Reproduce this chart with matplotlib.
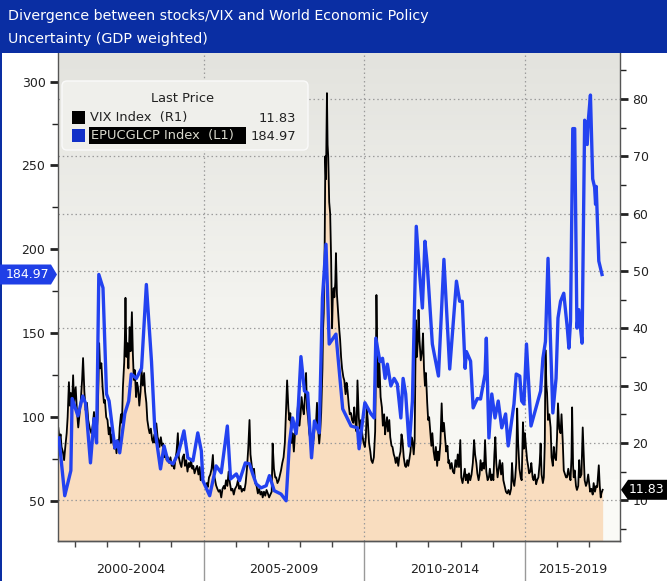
import numpy as np
import matplotlib
matplotlib.use("Agg")
import matplotlib.pyplot as plt
from matplotlib.patches import Rectangle, Polygon, FancyBboxPatch
from matplotlib.colors import LinearSegmentedColormap
import matplotlib.transforms as mtransforms

plt.rcParams['font.family'] = ['DejaVu Sans']

# ---------------- data ----------------
title_lines = ["Divergence between stocks/VIX and World Economic Policy",
               "Uncertainty (GDP weighted)"]
period_labels = ["2000-2004", "2005-2009", "2010-2014", "2015-2019"]
period_bounds = [2005, 2010, 2015]
legend_title = "Last Price"
vix_name = "VIX Index  (R1)"
epu_name = "EPUCGLCP Index  (L1)"

left_ticks = [50, 100, 150, 200, 250, 300]
right_ticks = [10, 20, 30, 40, 50, 60, 70, 80]

# EPU global index (left axis), decimal years
epu_t = [2000.50, 2000.68, 2000.87, 2000.91, 2001.09, 2001.24, 2001.33, 2001.48, 2001.59, 2001.67,
         2001.74, 2001.87, 2001.98, 2002.06, 2002.24, 2002.31, 2002.39, 2002.55, 2002.67, 2002.75,
         2002.91, 2003.07, 2003.22, 2003.38, 2003.48, 2003.66, 2003.77, 2003.89, 2004.05, 2004.22,
         2004.39, 2004.51, 2004.67, 2004.82, 2004.93, 2004.98, 2005.19, 2005.39, 2005.55, 2005.74,
         2005.84, 2006.02, 2006.12, 2006.30, 2006.43, 2006.53, 2006.64, 2006.79, 2006.95, 2007.05,
         2007.20, 2007.41, 2007.57, 2007.67, 2007.77, 2007.88, 2007.93, 2008.03, 2008.14, 2008.24,
         2008.36, 2008.45, 2008.60, 2008.70, 2008.81, 2008.91, 2009.12, 2009.33, 2009.59, 2009.79,
         2009.84, 2010.02, 2010.21, 2010.31, 2010.36, 2010.49, 2010.57, 2010.65, 2010.72, 2010.83,
         2010.93, 2011.03, 2011.14, 2011.21, 2011.29, 2011.40, 2011.50, 2011.62, 2011.71, 2011.81,
         2011.89, 2011.96, 2012.12, 2012.31, 2012.48, 2012.66, 2012.87, 2012.97, 2013.05, 2013.14,
         2013.18, 2013.31, 2013.39, 2013.52, 2013.62, 2013.76, 2013.80, 2013.88, 2013.97, 2014.07,
         2014.17, 2014.28, 2014.40, 2014.48, 2014.66, 2014.73, 2014.84, 2014.90, 2014.97, 2015.05,
         2015.19, 2015.49, 2015.56, 2015.64, 2015.72, 2015.80, 2015.87, 2015.97, 2016.03, 2016.11,
         2016.21, 2016.32, 2016.37, 2016.42, 2016.49, 2016.55, 2016.62, 2016.68, 2016.73, 2016.78,
         2016.86, 2016.94, 2016.97, 2017.04, 2017.11, 2017.17, 2017.20, 2017.22, 2017.30, 2017.40]
epu_v = [87.5, 53.0, 68.0, 111.0, 100.6, 112.5, 108.0, 72.6, 99.0, 84.5,
         185.0, 177.0, 113.7, 109.5, 81.5, 85.7, 78.6, 102.0, 109.5, 125.6,
         123.0, 129.0, 179.0, 133.0, 93.5, 69.0, 82.7, 73.8, 72.0, 78.6,
         91.7, 75.6, 73.8, 90.5, 79.8, 62.0, 53.0, 70.8, 66.7, 94.6,
         63.0, 66.0, 62.0, 72.6, 72.0, 66.0, 60.0, 57.7, 59.0, 65.0,
         56.0, 54.0, 50.0, 84.0, 99.4, 90.0, 99.4, 136.0, 115.5, 114.3,
         75.6, 97.6, 90.5, 171.0, 203.0, 143.5, 149.4, 104.8, 94.6, 93.5,
         81.0, 108.5, 101.8, 99.4, 147.0, 133.0, 135.0, 123.0, 131.5, 118.5,
         123.0, 119.6, 99.4, 123.0, 113.7, 82.7, 109.5, 213.7, 188.7, 165.0,
         204.8, 191.0, 143.5, 124.4, 194.0, 128.6, 181.0, 169.0, 169.0, 129.0,
         139.0, 133.3, 105.4, 111.0, 110.7, 125.6, 147.0, 87.5, 113.7, 99.4,
         109.5, 93.5, 101.8, 82.7, 107.7, 125.6, 124.4, 109.5, 107.7, 143.5,
         94.6, 115.5, 135.0, 145.0, 194.6, 143.5, 102.4, 123.0, 159.0, 169.0,
         173.8, 153.0, 141.0, 157.0, 272.0, 272.0, 153.0, 164.0, 153.0, 144.0,
         277.0, 262.5, 276.0, 292.0, 242.0, 237.0, 226.8, 237.5, 193.0, 184.97]

# VIX (right axis): (decimal year, level)
vix_points = [
    (2000.48, 22.6), (2000.52, 20.5), (2000.55, 21.5), (2000.58, 19.3), (2000.62, 18.5),
    (2000.66, 17.0), (2000.70, 19.5), (2000.74, 21.7), (2000.77, 24.5), (2000.81, 30.6),
    (2000.84, 26.5), (2000.87, 28.7), (2000.90, 25.0), (2000.94, 31.8), (2000.97, 27.0),
    (2001.02, 29.7), (2001.06, 25.5), (2001.10, 22.7), (2001.14, 25.0), (2001.18, 27.5),
    (2001.22, 31.0), (2001.25, 34.8), (2001.29, 29.0), (2001.33, 25.7), (2001.37, 27.0),
    (2001.41, 24.0), (2001.46, 22.5), (2001.51, 21.7), (2001.55, 23.0), (2001.59, 25.4),
    (2001.63, 23.5), (2001.67, 21.7), (2001.70, 24.0), (2001.73, 31.0), (2001.75, 37.4),
    (2001.78, 33.0), (2001.82, 33.9), (2001.86, 29.5), (2001.90, 27.0), (2001.93, 27.5),
    (2001.97, 24.5), (2002.01, 24.0), (2002.05, 21.5), (2002.08, 22.7), (2002.12, 20.0),
    (2002.15, 21.5), (2002.18, 20.5), (2002.22, 19.0), (2002.26, 20.0), (2002.29, 18.2),
    (2002.33, 20.5), (2002.36, 19.5), (2002.39, 22.7), (2002.43, 25.0), (2002.46, 23.5),
    (2002.49, 29.7), (2002.53, 34.0), (2002.55, 38.0), (2002.57, 45.3), (2002.60, 35.0),
    (2002.63, 37.4), (2002.66, 33.0), (2002.70, 40.2), (2002.73, 36.0), (2002.77, 42.8),
    (2002.80, 35.5), (2002.83, 31.0), (2002.86, 32.7), (2002.90, 28.0), (2002.93, 30.5),
    (2002.96, 29.7), (2003.00, 26.5), (2003.04, 29.0), (2003.07, 32.7), (2003.11, 30.0),
    (2003.15, 32.2), (2003.18, 29.0), (2003.22, 27.0), (2003.25, 24.0), (2003.29, 22.5),
    (2003.32, 21.7), (2003.36, 22.5), (2003.40, 20.5), (2003.43, 20.1), (2003.47, 21.5),
    (2003.50, 20.0), (2003.53, 23.4), (2003.57, 21.0), (2003.60, 20.5), (2003.63, 19.3),
    (2003.67, 21.0), (2003.71, 19.5), (2003.74, 19.9), (2003.78, 17.5), (2003.82, 18.5),
    (2003.85, 17.0), (2003.89, 17.5), (2003.93, 16.5), (2003.97, 17.5), (2004.01, 16.0),
    (2004.05, 16.1), (2004.09, 15.5), (2004.12, 17.0), (2004.16, 18.5), (2004.20, 21.7),
    (2004.23, 17.5), (2004.27, 16.5), (2004.31, 15.8), (2004.35, 17.5), (2004.39, 18.0),
    (2004.42, 16.0), (2004.46, 17.0), (2004.50, 15.0), (2004.54, 16.5), (2004.57, 15.8),
    (2004.61, 17.0), (2004.65, 15.5), (2004.68, 16.0), (2004.72, 14.7), (2004.76, 15.5),
    (2004.80, 16.0), (2004.84, 14.5), (2004.88, 15.8), (2004.91, 13.5), (2004.95, 14.0),
    (2004.98, 13.5), (2005.02, 13.0), (2005.06, 12.5), (2005.10, 13.0), (2005.13, 12.3),
    (2005.17, 14.0), (2005.21, 14.5), (2005.25, 15.5), (2005.29, 17.9), (2005.32, 14.5),
    (2005.36, 13.5), (2005.39, 12.6), (2005.43, 12.0), (2005.47, 11.5), (2005.51, 11.8),
    (2005.55, 10.5), (2005.59, 12.0), (2005.63, 12.5), (2005.66, 12.0), (2005.70, 13.5),
    (2005.74, 12.5), (2005.78, 15.0), (2005.82, 13.0), (2005.86, 11.7), (2005.90, 12.0),
    (2005.94, 11.0), (2005.98, 12.0), (2006.03, 12.5), (2006.07, 13.5), (2006.11, 12.0),
    (2006.15, 12.5), (2006.19, 11.5), (2006.23, 12.0), (2006.27, 11.7), (2006.31, 13.0),
    (2006.35, 15.5), (2006.39, 19.0), (2006.43, 24.0), (2006.46, 18.0), (2006.50, 16.0),
    (2006.53, 14.7), (2006.57, 15.5), (2006.61, 13.0), (2006.65, 12.5), (2006.69, 11.2),
    (2006.73, 12.0), (2006.77, 11.0), (2006.81, 11.5), (2006.84, 10.5), (2006.88, 11.5),
    (2006.92, 10.8), (2006.96, 11.8), (2007.00, 11.2), (2007.04, 10.5), (2007.08, 11.0),
    (2007.12, 11.5), (2007.15, 19.9), (2007.19, 15.5), (2007.23, 14.0), (2007.26, 14.0),
    (2007.30, 13.0), (2007.34, 13.5), (2007.38, 14.5), (2007.41, 15.2), (2007.45, 16.5),
    (2007.49, 17.5), (2007.53, 20.0), (2007.57, 26.0), (2007.60, 30.9), (2007.64, 26.0),
    (2007.67, 24.0), (2007.70, 25.2), (2007.74, 20.0), (2007.77, 21.7), (2007.81, 18.5),
    (2007.85, 22.0), (2007.88, 22.2), (2007.91, 24.5), (2007.95, 27.5), (2007.98, 23.0),
    (2008.02, 25.0), (2008.05, 28.0), (2008.09, 26.0), (2008.12, 25.0), (2008.16, 28.5),
    (2008.19, 32.2), (2008.22, 26.0), (2008.26, 24.0), (2008.29, 21.7), (2008.33, 20.5),
    (2008.36, 19.5), (2008.39, 19.3), (2008.43, 21.0), (2008.46, 23.0), (2008.50, 23.4),
    (2008.53, 27.0), (2008.57, 22.0), (2008.60, 19.9), (2008.63, 22.0), (2008.66, 25.2),
    (2008.70, 33.0), (2008.72, 40.0), (2008.74, 42.6), (2008.77, 55.0), (2008.79, 70.0),
    (2008.81, 66.0), (2008.84, 81.0), (2008.86, 72.0), (2008.88, 69.9), (2008.91, 62.0),
    (2008.94, 60.0), (2008.97, 52.0), (2009.00, 40.0), (2009.02, 45.0), (2009.05, 47.0),
    (2009.07, 45.4), (2009.10, 48.0), (2009.12, 53.1), (2009.15, 46.0), (2009.19, 42.6),
    (2009.22, 40.0), (2009.25, 38.0), (2009.28, 35.0), (2009.31, 33.0), (2009.35, 31.5),
    (2009.38, 30.9), (2009.42, 28.5), (2009.45, 30.5), (2009.48, 29.2), (2009.52, 26.5),
    (2009.55, 25.0), (2009.59, 25.2), (2009.62, 24.0), (2009.66, 23.5), (2009.69, 26.2),
    (2009.72, 24.0), (2009.76, 22.0), (2009.79, 30.9), (2009.83, 24.5), (2009.86, 22.5),
    (2009.90, 24.0), (2009.94, 21.5), (2009.98, 20.0), (2010.02, 19.3), (2010.05, 21.0),
    (2010.08, 26.0), (2010.11, 24.0), (2010.15, 20.0), (2010.19, 18.5), (2010.22, 17.0),
    (2010.26, 16.5), (2010.30, 17.5), (2010.34, 22.0), (2010.36, 32.0), (2010.38, 45.8),
    (2010.41, 35.0), (2010.44, 29.7), (2010.47, 34.0), (2010.51, 28.0), (2010.55, 26.2),
    (2010.58, 23.0), (2010.62, 25.0), (2010.65, 21.5), (2010.67, 22.7), (2010.71, 24.5),
    (2010.74, 22.0), (2010.78, 24.0), (2010.81, 21.0), (2010.85, 19.5), (2010.88, 19.3),
    (2010.92, 18.0), (2010.95, 17.5), (2010.98, 16.5), (2011.02, 17.5), (2011.06, 16.0),
    (2011.09, 17.5), (2011.13, 18.5), (2011.16, 21.5), (2011.19, 20.5), (2011.23, 17.5),
    (2011.27, 16.0), (2011.30, 15.8), (2011.34, 17.0), (2011.37, 16.0), (2011.40, 17.0),
    (2011.44, 18.5), (2011.47, 21.0), (2011.50, 20.5), (2011.54, 18.0), (2011.57, 20.5),
    (2011.59, 32.0), (2011.61, 41.4), (2011.64, 35.0), (2011.67, 38.0), (2011.69, 43.2),
    (2011.72, 38.0), (2011.76, 34.4), (2011.80, 36.0), (2011.83, 39.1), (2011.86, 33.0),
    (2011.89, 30.0), (2011.92, 32.2), (2011.96, 27.0), (2011.99, 24.0), (2012.02, 24.5),
    (2012.06, 21.5), (2012.09, 19.5), (2012.12, 21.7), (2012.16, 18.5), (2012.20, 17.0),
    (2012.23, 19.3), (2012.27, 16.0), (2012.30, 18.5), (2012.33, 17.0), (2012.37, 20.0),
    (2012.41, 26.9), (2012.44, 22.0), (2012.48, 23.5), (2012.52, 20.5), (2012.55, 18.5),
    (2012.59, 19.5), (2012.62, 16.5), (2012.64, 17.0), (2012.68, 15.5), (2012.72, 16.5),
    (2012.76, 15.0), (2012.80, 14.7), (2012.84, 17.0), (2012.88, 15.8), (2012.91, 18.0),
    (2012.95, 15.8), (2012.99, 20.5), (2013.02, 14.0), (2013.06, 13.0), (2013.09, 14.0),
    (2013.13, 15.5), (2013.16, 13.5), (2013.20, 14.5), (2013.23, 13.0), (2013.26, 14.7),
    (2013.30, 13.5), (2013.34, 14.5), (2013.38, 16.5), (2013.42, 20.5), (2013.45, 18.0),
    (2013.49, 16.5), (2013.52, 14.7), (2013.56, 13.5), (2013.59, 14.5), (2013.62, 17.0),
    (2013.66, 15.2), (2013.69, 16.5), (2013.73, 15.5), (2013.76, 20.5), (2013.80, 15.0),
    (2013.84, 13.5), (2013.88, 14.0), (2013.91, 15.5), (2013.95, 13.5), (2013.98, 14.5),
    (2014.02, 13.5), (2014.05, 18.0), (2014.08, 21.0), (2014.11, 16.5), (2014.15, 14.0),
    (2014.19, 15.8), (2014.22, 17.0), (2014.26, 14.5), (2014.30, 16.5), (2014.33, 13.5),
    (2014.37, 12.5), (2014.41, 11.5), (2014.45, 11.2), (2014.49, 11.8), (2014.53, 11.0),
    (2014.57, 12.0), (2014.60, 16.5), (2014.63, 13.5), (2014.67, 12.5), (2014.70, 14.0),
    (2014.73, 16.5), (2014.76, 26.0), (2014.79, 20.0), (2014.83, 15.5), (2014.87, 14.0),
    (2014.90, 13.5), (2014.94, 23.6), (2014.97, 19.0), (2015.00, 21.7), (2015.03, 19.5),
    (2015.07, 17.0), (2015.10, 16.0), (2015.13, 14.7), (2015.17, 15.0), (2015.20, 16.5),
    (2015.24, 14.0), (2015.27, 13.5), (2015.31, 14.5), (2015.35, 12.8), (2015.38, 13.5),
    (2015.42, 14.0), (2015.46, 16.5), (2015.49, 19.9), (2015.52, 14.5), (2015.56, 13.0),
    (2015.59, 14.0), (2015.62, 20.0), (2015.64, 36.2), (2015.67, 30.0), (2015.69, 28.7),
    (2015.72, 24.0), (2015.76, 25.0), (2015.80, 22.7), (2015.83, 17.5), (2015.87, 16.0),
    (2015.90, 19.3), (2015.93, 17.5), (2015.97, 17.0), (2016.00, 21.0), (2016.03, 26.9),
    (2016.07, 22.5), (2016.11, 21.7), (2016.14, 25.0), (2016.18, 20.0), (2016.21, 15.2),
    (2016.25, 14.5), (2016.28, 14.0), (2016.31, 14.0), (2016.35, 15.5), (2016.38, 14.5),
    (2016.42, 13.5), (2016.45, 17.5), (2016.47, 26.2), (2016.50, 16.0), (2016.52, 14.0),
    (2016.55, 15.2), (2016.59, 12.5), (2016.62, 11.8), (2016.66, 12.5), (2016.69, 17.0),
    (2016.72, 14.0), (2016.76, 14.5), (2016.80, 22.7), (2016.83, 18.0), (2016.86, 13.5),
    (2016.90, 12.5), (2016.93, 13.0), (2016.97, 14.5), (2016.99, 13.5), (2017.03, 11.5),
    (2017.07, 12.0), (2017.11, 11.0), (2017.14, 13.0), (2017.18, 11.5), (2017.22, 12.5),
    (2017.25, 12.3), (2017.28, 14.5), (2017.30, 16.1), (2017.33, 12.5), (2017.36, 10.5),
    (2017.38, 11.2), (2017.42, 11.83),
]
vix_t = [p[0] for p in vix_points]
vix_v = [p[1] for p in vix_points]

# ---------------- style / layout ----------------
W, H = 667, 581
TITLE_BLUE = '#0a2ea3'
EPU_BLUE = '#2342f0'
FILL = '#f9ddbf'

fig = plt.figure(figsize=(W / 100, H / 100), dpi=100)
fig.patch.set_facecolor('white')

ax_left, ax_right, ax_top, ax_bot = 58, 620, 53, 541
pos = [ax_left / W, 1 - ax_bot / H, (ax_right - ax_left) / W, (ax_bot - ax_top) / H]
ax2 = fig.add_axes(pos)                 # right axis (VIX) + background
ax = fig.add_axes(pos, sharex=ax2)      # left axis (EPU) on top
ax.set_zorder(ax2.get_zorder() + 1)
ax.patch.set_visible(False)

xmin, xmax = 2000.47, 2017.96

# background gradient
cmap = LinearSegmentedColormap.from_list('bg', ['#e3e3de', '#f3f3ef', '#fbfbf7'])
ax2.imshow(np.linspace(0, 1, 256).reshape(-1, 1), cmap=cmap, aspect='auto',
           extent=[0, 1, 0, 1], transform=ax2.transAxes, zorder=0, origin='upper')

# VIX area + line
ax2.fill_between(vix_t, vix_v, 0, color=FILL, lw=0, zorder=1)
ax2.plot(vix_t, vix_v, color='black', lw=1.3, zorder=3)

# grid lines
for v in right_ticks:
    ax2.axhline(v, color='#9b9b9b', lw=0.9, ls=(0, (1.2, 2.2)), zorder=2)
for b in period_bounds:
    ax2.axvline(b, color='#9b9b9b', lw=0.9, ls=(0, (1.2, 2.2)), zorder=2)

# EPU line
ax.plot(epu_t, epu_v, color=EPU_BLUE, lw=2.4, zorder=3, solid_joinstyle='round')

ax2.set_xlim(xmin, xmax)
ax.set_ylim(26.0, 317.1)
ax2.set_ylim(2.9, 88.0)

# axes styling
for a in (ax, ax2):
    a.spines['top'].set_visible(False)
    for s in ('left', 'right', 'bottom'):
        a.spines[s].set_color('#555555')
        a.spines[s].set_linewidth(1.0)
ax.spines['right'].set_visible(False)
ax2.spines['left'].set_visible(False)

ax.yaxis.tick_left()
ax.set_yticks(left_ticks)
ax.set_yticks(np.arange(75, 301, 50), minor=True)
ax.tick_params(axis='y', which='major', length=6, width=2.0, pad=3, labelsize=9,
               colors='#222222', direction='out')
ax.tick_params(axis='y', which='minor', length=4, width=1.0, colors='#222222')

ax2.yaxis.tick_right()
ax2.set_yticks(right_ticks)
ax2.set_yticks(np.arange(5, 86, 10), minor=True)
ax2.tick_params(axis='y', which='major', length=6, width=2.0, pad=3, labelsize=9,
                colors='#222222', direction='out')
ax2.tick_params(axis='y', which='minor', length=4, width=1.0, colors='#222222')

ax2.set_xticks(period_bounds)
ax2.set_xticklabels([])
ax2.set_xticks([y for y in range(2001, 2018) if y not in period_bounds], minor=True)
ax2.tick_params(axis='x', which='major', length=29, width=1.0, colors='#999999')
ax2.tick_params(axis='x', which='minor', length=4, width=1.0, colors='#444444')
ax.tick_params(axis='x', which='both', bottom=False, labelbottom=False)

blend = mtransforms.blended_transform_factory(ax2.transData, ax2.transAxes)
edges = [xmin] + period_bounds + [xmax]
for i, lab in enumerate(period_labels):
    ax2.text((edges[i] + edges[i + 1]) / 2, -0.058, lab, transform=blend,
             ha='center', va='center', fontsize=9.2, color='#222222')

# ---------------- overlay (title bar, tags, legend) ----------------
ov = fig.add_axes([0, 0, 1, 1], zorder=20)
ov.set_xlim(0, W)
ov.set_ylim(H, 0)
ov.axis('off')
ov.patch.set_visible(False)

ov.add_patch(Rectangle((0, 0), W, ax_top, color=TITLE_BLUE, lw=0))
ov.add_patch(Rectangle((0, ax_top), 2, H - ax_top, color=TITLE_BLUE, lw=0))
ov.text(8, 16, title_lines[0], color='white', fontsize=10.3, va='center', ha='left')
ov.text(8, 39, title_lines[1], color='white', fontsize=10.3, va='center', ha='left')

fig.canvas.draw()
# left tag for last EPU value
yl = H - ax.transData.transform((xmax, epu_v[-1]))[1]
ov.add_patch(Polygon([(0, yl - 10), (51, yl - 10), (57, yl), (51, yl + 10), (0, yl + 10)],
                     closed=True, color='#1f3fe6', lw=0))
ov.text(27, yl, f"{epu_v[-1]:.2f}", color='white', fontsize=9, ha='center', va='center')
# right tag for last VIX value
yr = H - ax2.transData.transform((xmax, vix_v[-1]))[1]
ov.add_patch(Polygon([(621, yr), (628, yr - 10), (667, yr - 10), (667, yr + 10), (628, yr + 10)],
                     closed=True, color='black', lw=0))
ov.text(646, yr, f"{vix_v[-1]:.2f}", color='white', fontsize=9, ha='center', va='center')

# legend
ov.add_patch(FancyBboxPatch((62, 81), 246, 69, boxstyle='round,pad=0,rounding_size=5',
                            fc='#efefeb', ec='#fafafa', lw=1.0))
ov.text(183, 99, legend_title, fontsize=9.4, ha='center', va='center', color='#222222')
ov.add_patch(Rectangle((72, 111), 13, 13, color='black', lw=0))
ov.text(90, 118, vix_name, fontsize=9.4, ha='left', va='center', color='#222222')
ov.text(296, 118, f"{vix_v[-1]:.2f}", fontsize=9.4, ha='right', va='center', color='#222222')
ov.add_patch(Rectangle((72, 129), 13, 13, color='#1130c8', lw=0))
ov.add_patch(Rectangle((89, 127), 157, 17, color='black', lw=0))
ov.text(91, 136, epu_name, fontsize=9.4, ha='left', va='center', color='#d8d8cc')
ov.text(296, 136, f"{epu_v[-1]:.2f}", fontsize=9.4, ha='right', va='center', color='#222222')

fig.savefig('out.png', dpi=100)
